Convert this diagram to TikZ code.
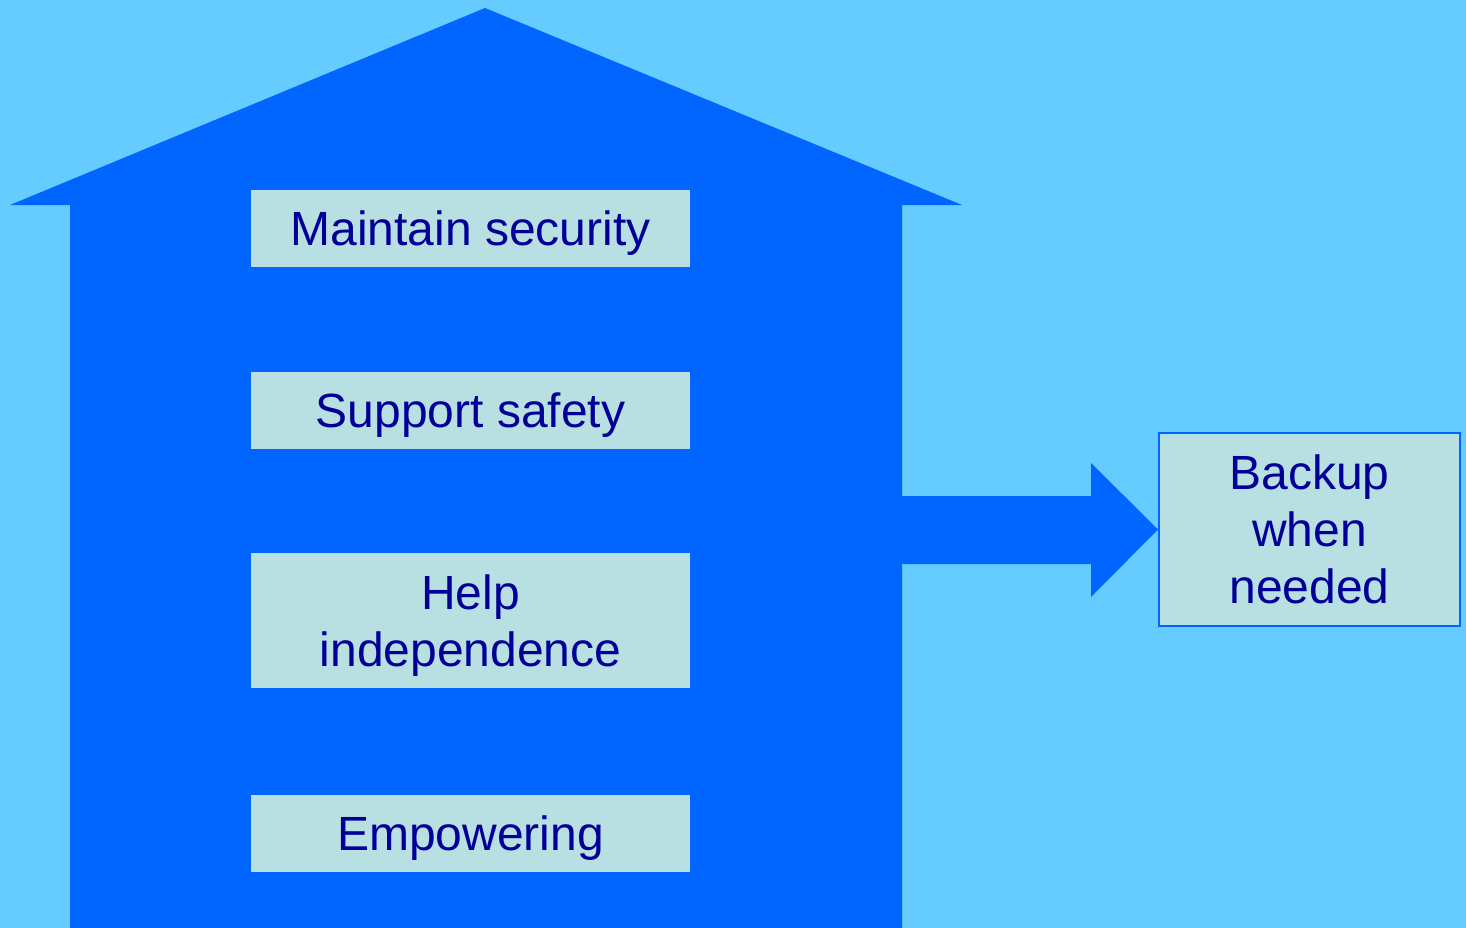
\documentclass[tikz,border=0pt]{standalone}
\usepackage{fontspec}
\setmainfont{Liberation Sans}
\definecolor{bgblue}{HTML}{66CCFF}
\definecolor{houseblue}{HTML}{0066FF}
\definecolor{boxfill}{HTML}{B8DFE2}
\definecolor{navy}{HTML}{000099}
\begin{document}
\begin{tikzpicture}[x=1pt,y=-1pt,
  lbl/.style={fill=boxfill, text=navy, inner sep=0pt, align=center,
    font=\fontsize{48}{57}\selectfont, minimum width=439pt, text depth=0pt},
  backup/.style={lbl, draw=houseblue, line width=2pt, minimum width=301pt, minimum height=193pt}]
\fill[bgblue] (0,0) rectangle (1466,928);
\useasboundingbox (0,0) rectangle (1466,928);
% house
\fill[houseblue] (10,205) -- (485,8) -- (962,205) -- (902,205) -- (902,928) -- (70,928) -- (70,205) -- cycle;
% boxes
\node[lbl, minimum height=77pt] (sec) at (470.5,228.5) {Maintain security};
\node[lbl, minimum height=77pt] (saf) at (470.5,410.5) {Support safety};
\node[lbl, minimum height=135pt] (ind) at (470.5,620.5) {Help\\independence};
\node[lbl, minimum height=77pt] (emp) at (470.5,833.5) {Empowering};
\node[backup] (bk) at (1309.5,529.5) {Backup\\when\\needed};
% arrow
\coordinate (as) at (902,530);
\fill[houseblue] (as) ++(0,-34) -- (1091,496) -- (1091,463) -- (bk.west) -- (1091,597) -- (1091,564) -- (902,564) -- cycle;
\end{tikzpicture}
\end{document}
